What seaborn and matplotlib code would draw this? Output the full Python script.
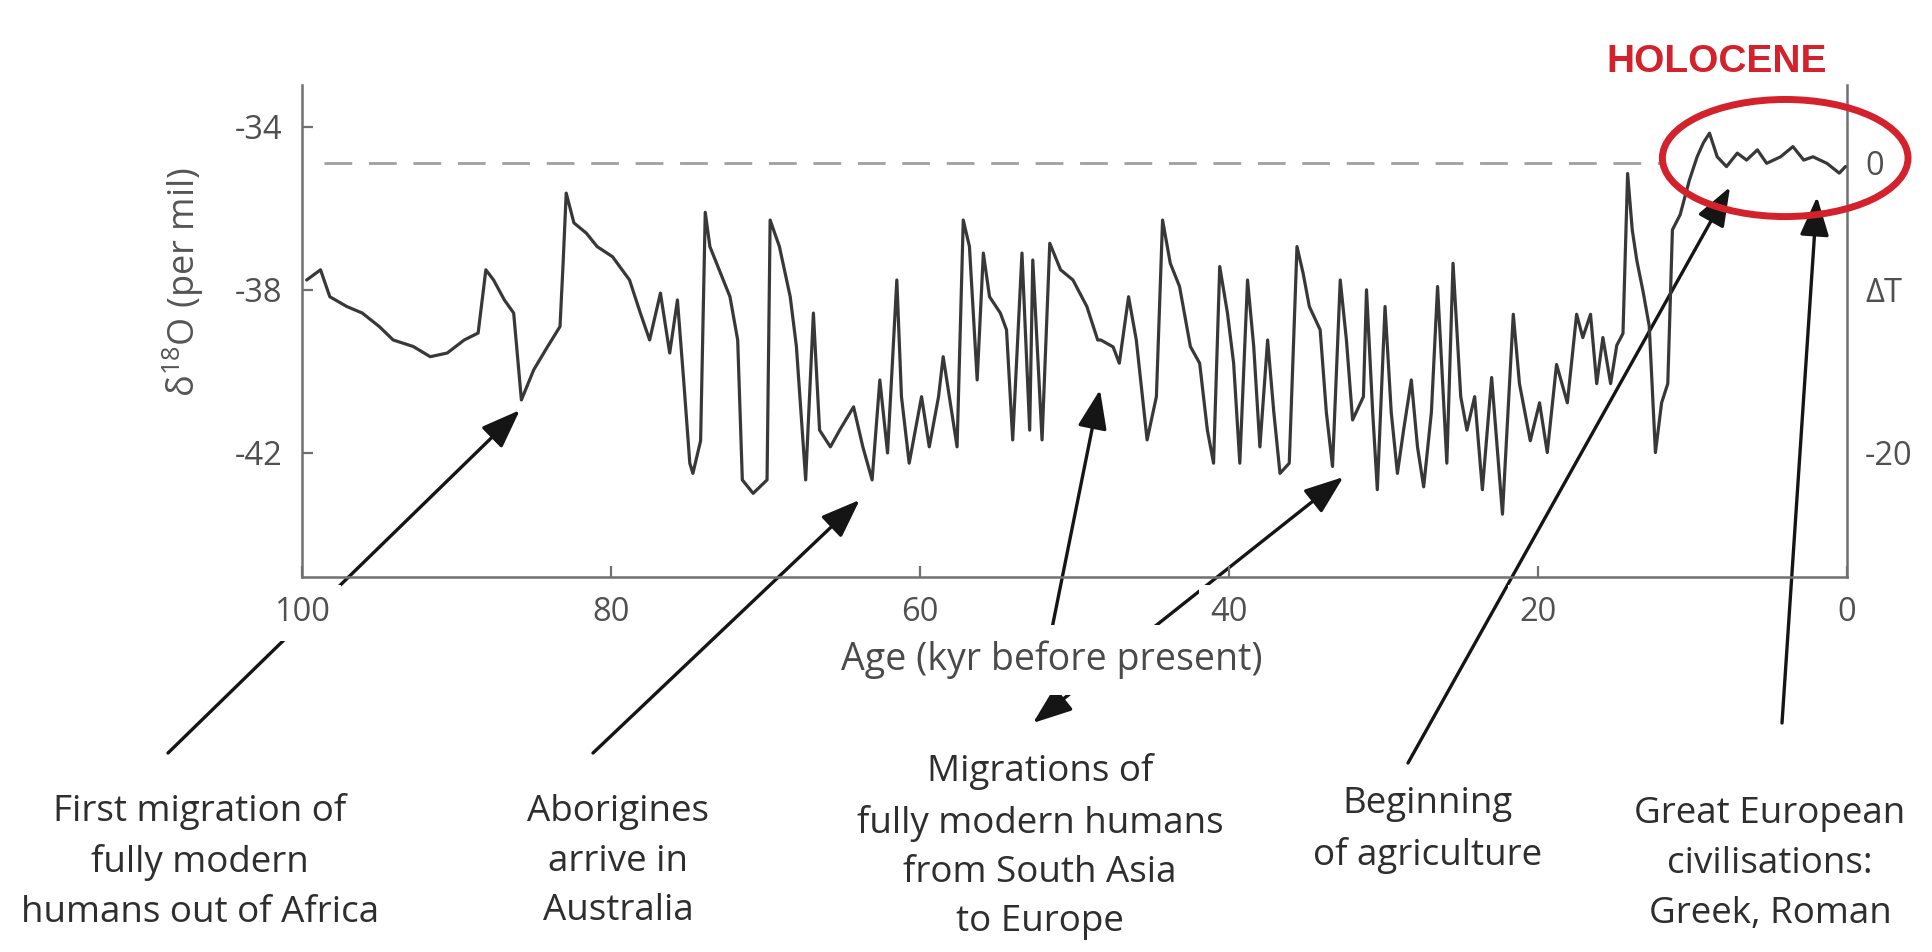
import matplotlib
matplotlib.use("Agg")
import matplotlib.pyplot as plt
import seaborn as sns
import pandas as pd
from matplotlib.patches import Ellipse

# ---------------- data ----------------
age_kyr = [99.7, 98.8, 98.2, 97.1, 96.1, 95.0, 94.1, 92.8, 91.7, 90.6, 89.5, 88.6,
           88.1, 87.6, 86.9, 86.3, 85.8, 85.0, 84.1, 83.3, 83.1, 82.9, 82.4, 81.6,
           80.9, 79.9, 78.8, 78.1, 77.5, 76.8, 76.2, 75.7, 75.3, 74.9, 74.7, 74.2,
           73.9, 73.6, 72.9, 72.3, 71.8, 71.5, 70.8, 69.9, 69.7, 69.1, 68.4, 68.0,
           67.4, 66.9, 66.5, 65.8, 65.2, 64.3, 63.7, 63.1, 62.6, 62.1, 61.5, 61.2,
           60.7, 60.3, 59.9, 59.4, 58.8, 58.5, 58.1, 57.6, 57.2, 56.8, 56.3, 55.9,
           55.5, 54.8, 54.4, 54.0, 53.4, 52.9, 52.7, 52.1, 51.6, 50.9, 50.1, 49.2,
           48.5, 48.3, 47.5, 47.1, 46.5, 46.0, 45.3, 44.7, 44.3, 43.8, 43.2, 42.5,
           41.9, 41.4, 41.0, 40.6, 40.1, 39.7, 39.3, 38.8, 38.4, 38.0, 37.5, 37.1,
           36.7, 36.1, 35.6, 35.2, 34.8, 34.1, 33.7, 33.3, 32.8, 32.4, 32.0, 31.3,
           31.1, 30.7, 30.4, 29.9, 29.5, 29.1, 28.7, 28.2, 27.8, 27.4, 26.9, 26.5,
           25.9, 25.5, 25.0, 24.6, 24.1, 23.6, 23.0, 22.3, 21.6, 21.2, 20.5, 19.9,
           19.4, 18.8, 18.1, 17.5, 17.1, 16.6, 16.2, 15.8, 15.3, 14.9, 14.5, 14.2,
           13.9, 13.6, 13.2, 12.8, 12.4, 12.0, 11.6, 11.3, 10.8, 10.2, 9.7, 9.3,
           8.9, 8.4, 7.8, 7.1, 6.5, 5.8, 5.2, 4.3, 3.5, 2.8, 2.2, 1.3, 0.5, 0.1]
d18o_permil = [-37.76, -37.51, -38.17, -38.41, -38.57, -38.90, -39.23, -39.39, -39.64, -39.55, -39.23, -39.06,
               -37.51, -37.76, -38.25, -38.57, -40.70, -39.96, -39.39, -38.90, -37.35, -35.63, -36.36, -36.61,
               -36.94, -37.19, -37.76, -38.57, -39.23, -38.08, -39.55, -38.25, -40.20, -42.25, -42.50, -41.70,
               -36.10, -36.94, -37.60, -38.17, -39.23, -42.66, -42.99, -42.66, -36.29, -36.94, -38.17, -39.39,
               -42.66, -38.57, -41.44, -41.85, -41.44, -40.87, -41.85, -42.66, -40.21, -42.00, -37.76, -40.62,
               -42.25, -41.44, -40.62, -41.85, -40.62, -39.64, -40.62, -41.85, -36.29, -36.94, -40.21, -37.10,
               -38.17, -38.57, -38.98, -41.68, -37.10, -41.44, -37.27, -41.68, -36.86, -37.51, -37.76, -38.41,
               -39.23, -39.23, -39.40, -39.80, -38.17, -39.23, -41.68, -40.62, -36.29, -37.35, -37.92, -39.39,
               -39.80, -41.44, -42.25, -37.43, -38.57, -39.80, -42.25, -37.76, -39.39, -41.85, -39.23, -41.00,
               -42.50, -42.25, -36.94, -37.60, -38.41, -38.98, -41.00, -42.33, -37.76, -39.23, -41.19, -40.62,
               -38.00, -41.00, -42.90, -38.41, -41.00, -42.50, -41.44, -40.21, -41.85, -42.83, -41.00, -37.92,
               -42.25, -37.35, -40.62, -41.44, -40.62, -42.90, -40.15, -43.50, -38.60, -40.30, -41.70, -40.77,
               -41.99, -39.83, -40.77, -38.60, -39.17, -38.60, -40.30, -39.17, -40.30, -39.36, -39.07, -35.15,
               -36.53, -37.29, -38.04, -38.89, -41.99, -40.77, -40.30, -36.53, -36.16, -35.31, -34.74, -34.40,
               -34.16, -34.74, -34.98, -34.65, -34.82, -34.57, -34.90, -34.74, -34.49, -34.82, -34.74, -34.90, -35.14, -34.98]

x_ticks = [100, 80, 60, 40, 20, 0]
y_ticks = [-34, -38, -42]
right_tick_values = [-34.88, -38, -42]
right_tick_labels = ["0", "ΔT", "-20"]
present_level = -34.88
present_span = [98.6, 11.8]

x_label = "Age (kyr before present)"
y_label = r"$\mathregular{\delta^{18}}$O (per mil)"
holocene_label = "HOLOCENE"

notes = [
    "First migration of\nfully modern\nhumans out of Africa",
    "Aborigines\narrive in\nAustralia",
    "Migrations of\nfully modern humans\nfrom South Asia\nto Europe",
    "Beginning\nof agriculture",
    "Great European\ncivilisations:\nGreek, Roman",
]
# arrow targets (age, d18O) on the record
note_targets_age = [85.9, 63.9, 48.35, 32.6, 7.57, 1.94]
note_targets_val = [-40.95, -43.15, -40.45, -42.59, -35.48, -35.72]

# ---------------- styling ----------------
sns.set_style("white")
plt.rcParams["font.family"] = ["Open Sans", "DejaVu Sans"]
plt.rcParams["mathtext.fontset"] = "custom"
plt.rcParams["mathtext.rm"] = "Open Sans"
plt.rcParams["mathtext.it"] = "Open Sans:italic"
plt.rcParams["axes.unicode_minus"] = False

W, H = 1932, 952
fig = plt.figure(figsize=(W / 100, H / 100), dpi=100)
fig.patch.set_facecolor("white")
ax = fig.add_axes([302 / W, 1 - 577 / H, (1847 - 302) / W, (577 - 85) / H])
ax.set_axisbelow(False)

df = pd.DataFrame({"age": age_kyr, "d18o": d18o_permil})
sns.lineplot(data=df, x="age", y="d18o", ax=ax, color="#383838", lw=2.3,
             estimator=None, sort=False, zorder=3)

ax.hlines(present_level, present_span[0], present_span[1], colors="#a0a0a0",
          linestyles=(0, (10, 6)), lw=2.0, zorder=2)

ax.set_xlim(100, 0)
ax.set_ylim(-45.04, -32.98)
ax.set_xticks(x_ticks)
ax.set_yticks(y_ticks)

spine_c = "#707070"
for s in ["left", "bottom", "right"]:
    ax.spines[s].set_color(spine_c)
    ax.spines[s].set_linewidth(1.8)
ax.spines["top"].set_visible(False)
ax.tick_params(direction="in", length=8, width=1.6, color=spine_c,
               labelsize=23.5, labelcolor="#505050", pad=14,
               right=True, labelright=False, top=False, bottom=True, left=True)
for lbl in ax.get_xticklabels():
    lbl.set_bbox(dict(fc="white", ec="none", pad=8))

ax.set_xlabel(x_label, fontsize=27, color="#4a4a4a",
              bbox=dict(fc="white", ec="none", pad=11))
ax.xaxis.label.set_va("center")
ax.xaxis.set_label_coords((1052 - 302) / 1545, -(660 - 577) / 492)
ax.set_ylabel(y_label, fontsize=26, color="#555555")
ax.yaxis.label.set_va("center")
ax.yaxis.set_label_coords((183 - 302) / 1545, (577 - 282) / 492)

ax2 = ax.twinx()
ax2.set_ylim(ax.get_ylim())
ax2.set_yticks(right_tick_values)
ax2.set_yticklabels(right_tick_labels)
ax2.tick_params(length=0, labelsize=23.5, labelcolor="#505050", pad=13)
for s in ax2.spines.values():
    s.set_visible(False)
ax2.grid(False)
ax.grid(False)

# Holocene ellipse
red = "#d4222c"
ell = Ellipse((4.0, -34.77), width=15.9, height=2.87, fill=False,
              ec=red, lw=5.0, clip_on=False, zorder=5)
ax.add_patch(ell)
fig.text(1717 / W, 1 - 62 / H, holocene_label, color=red, fontsize=28,
         fontweight="bold", family=["Liberation Sans", "DejaVu Sans"],
         ha="center", va="center")

# annotation texts
note_pos = [(200, 862), (618, 862), (1040, 847), (1428, 830), (1770, 864)]
for txt, (px, py) in zip(notes, note_pos):
    fig.text(px / W, 1 - py / H, txt, fontsize=26.5, color="#2e2e2e",
             ha="center", va="center", multialignment="center", linespacing=1.5)

# arrows (tails in figure pixels, heads on the record)
tails = [(168, 753), (593, 753), (1040, 688), (1033, 723), (1408, 763), (1782, 723)]
styles = ["-|>", "-|>", "-|>", "<|-|>", "-|>", "-|>"]
for (tx, ty), sx, sy, st in zip(tails, note_targets_age, note_targets_val, styles):
    ax.annotate("", xy=(sx, sy), xycoords="data",
                xytext=(tx, H - ty), textcoords="figure pixels",
                annotation_clip=False, zorder=0.3,
                arrowprops=dict(arrowstyle=f"{st},head_length=1.2,head_width=0.45",
                                mutation_scale=20, lw=2.4, color="#151515",
                                shrinkA=0, shrinkB=0))

fig.savefig("out.png", dpi=100, facecolor="white")
